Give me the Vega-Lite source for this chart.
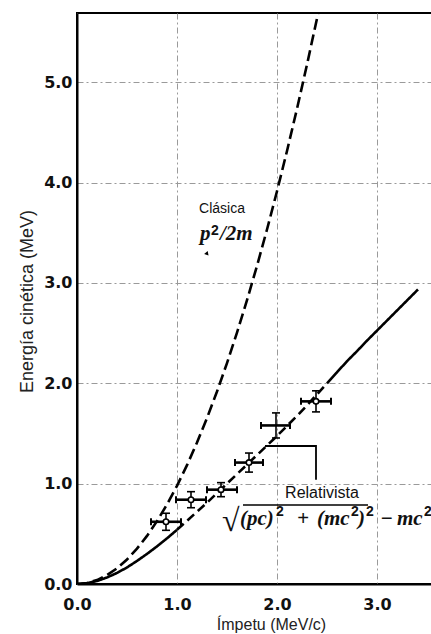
{
  "$schema": "https://vega.github.io/schema/vega-lite/v6.json",
  "width": 360,
  "height": 571,
  "autosize": {"type": "none"},
  "padding": {"left": 77, "top": 13, "right": 0, "bottom": 50},
  "background": "white",
  "config": {
    "view": {"stroke": "black", "strokeWidth": 2},
    "axis": {
      "domainColor": "black",
      "domainWidth": 2,
      "ticks": false,
      "grid": true,
      "gridColor": "#9a9a9a",
      "gridDash": [6, 3, 2, 3],
      "gridWidth": 1,
      "labelFont": "DejaVu Sans",
      "labelFontWeight": "bold",
      "labelFontSize": 16,
      "labelColor": "#111",
      "labelFlush": false,
      "titleFont": "Liberation Sans",
      "titleFontWeight": "normal",
      "titleColor": "#222"
    }
  },
  "datasets": {
    "curvas": [
      {"seg": "c", "p": 0, "K": 0}, {"seg": "c", "p": 0.1, "K": 0.0098}, {"seg": "c", "p": 0.2, "K": 0.0391},
      {"seg": "c", "p": 0.3, "K": 0.0881}, {"seg": "c", "p": 0.4, "K": 0.1566}, {"seg": "c", "p": 0.5, "K": 0.2446},
      {"seg": "c", "p": 0.6, "K": 0.3523}, {"seg": "c", "p": 0.7, "K": 0.4795}, {"seg": "c", "p": 0.8, "K": 0.6262},
      {"seg": "c", "p": 0.9, "K": 0.7926}, {"seg": "c", "p": 1.0, "K": 0.9785}, {"seg": "c", "p": 1.1, "K": 1.184},
      {"seg": "c", "p": 1.2, "K": 1.409}, {"seg": "c", "p": 1.3, "K": 1.6536}, {"seg": "c", "p": 1.4, "K": 1.9178},
      {"seg": "c", "p": 1.5, "K": 2.2016}, {"seg": "c", "p": 1.6, "K": 2.5049}, {"seg": "c", "p": 1.7, "K": 2.8278},
      {"seg": "c", "p": 1.8, "K": 3.1703}, {"seg": "c", "p": 1.9, "K": 3.5323}, {"seg": "c", "p": 2.0, "K": 3.9139},
      {"seg": "c", "p": 2.1, "K": 4.3151}, {"seg": "c", "p": 2.2, "K": 4.7358}, {"seg": "c", "p": 2.3, "K": 5.1761},
      {"seg": "c", "p": 2.4, "K": 5.636}, {"seg": "c", "p": 2.45, "K": 5.873},
      {"seg": "r1", "p": 0, "K": 0}, {"seg": "r1", "p": 0.1, "K": 0.008}, {"seg": "r1", "p": 0.2, "K": 0.03},
      {"seg": "r1", "p": 0.3, "K": 0.065}, {"seg": "r1", "p": 0.4, "K": 0.11}, {"seg": "r1", "p": 0.5, "K": 0.165},
      {"seg": "r1", "p": 0.6, "K": 0.23}, {"seg": "r1", "p": 0.7, "K": 0.3}, {"seg": "r1", "p": 0.8, "K": 0.375},
      {"seg": "r1", "p": 0.9, "K": 0.455}, {"seg": "r1", "p": 1.0, "K": 0.54},
      {"seg": "r2", "p": 1.0, "K": 0.54}, {"seg": "r2", "p": 1.1, "K": 0.63}, {"seg": "r2", "p": 1.2, "K": 0.72},
      {"seg": "r2", "p": 1.3, "K": 0.81}, {"seg": "r2", "p": 1.4, "K": 0.905}, {"seg": "r2", "p": 1.5, "K": 1.0},
      {"seg": "r2", "p": 1.6, "K": 1.095}, {"seg": "r2", "p": 1.7, "K": 1.19}, {"seg": "r2", "p": 1.8, "K": 1.285},
      {"seg": "r2", "p": 1.9, "K": 1.38}, {"seg": "r2", "p": 2.0, "K": 1.475}, {"seg": "r2", "p": 2.1, "K": 1.575},
      {"seg": "r2", "p": 2.2, "K": 1.675}, {"seg": "r2", "p": 2.3, "K": 1.78}, {"seg": "r2", "p": 2.4, "K": 1.89},
      {"seg": "r2", "p": 2.5, "K": 2.0},
      {"seg": "r3", "p": 2.5, "K": 2.0}, {"seg": "r3", "p": 2.6, "K": 2.11}, {"seg": "r3", "p": 2.7, "K": 2.22},
      {"seg": "r3", "p": 2.8, "K": 2.32}, {"seg": "r3", "p": 2.9, "K": 2.425}, {"seg": "r3", "p": 3.0, "K": 2.525},
      {"seg": "r3", "p": 3.1, "K": 2.625}, {"seg": "r3", "p": 3.2, "K": 2.725}, {"seg": "r3", "p": 3.3, "K": 2.825},
      {"seg": "r3", "p": 3.41, "K": 2.935}
    ],
    "medidas": [
      {"p": 0.89, "K": 0.62, "pmin": 0.74, "pmax": 1.04, "Kmin": 0.535, "Kmax": 0.705},
      {"p": 1.14, "K": 0.84, "pmin": 0.99, "pmax": 1.29, "Kmin": 0.76, "Kmax": 0.92},
      {"p": 1.44, "K": 0.94, "pmin": 1.3, "pmax": 1.6, "Kmin": 0.87, "Kmax": 1.01},
      {"p": 1.72, "K": 1.21, "pmin": 1.58, "pmax": 1.86, "Kmin": 1.115, "Kmax": 1.305},
      {"p": 1.99, "K": 1.58, "pmin": 1.84, "pmax": 2.13, "Kmin": 1.455, "Kmax": 1.705},
      {"p": 2.39, "K": 1.82, "pmin": 2.24, "pmax": 2.54, "Kmin": 1.715, "Kmax": 1.925}
    ],
    "corchete": [
      {"i": 1, "p": 1.88, "K": 1.375},
      {"i": 2, "p": 2.39, "K": 1.375},
      {"i": 3, "p": 2.39, "K": 1.04}
    ],
    "raiz": [{"p": 1.66, "p2": 2.91, "K": 0.787}]
  },
  "layer": [
    {
      "data": {"name": "curvas"},
      "mark": {"type": "line", "color": "black", "strokeWidth": 2.6, "clip": true},
      "encoding": {
        "x": {
          "field": "p", "type": "quantitative",
          "scale": {"domain": [0, 3.6], "nice": false, "zero": false},
          "axis": {
            "values": [0, 1, 2, 3], "format": ".1f", "labelPadding": 12,
            "title": "Ímpetu (MeV/c)", "titleFontSize": 16,
            "titleX": 194, "titleY": 40, "titleAlign": "center", "titleBaseline": "middle"
          }
        },
        "y": {
          "field": "K", "type": "quantitative",
          "scale": {"domain": [0, 5.69], "nice": false, "zero": false},
          "axis": {
            "values": [0, 1, 2, 3, 4, 5], "format": ".1f", "labelPadding": 5,
            "title": "Energía cinética (MeV)", "titleFontSize": 18,
            "titleX": -50, "titleY": 288, "titleAngle": -90, "titleAlign": "center", "titleBaseline": "middle"
          }
        },
        "detail": {"field": "seg"},
        "strokeDash": {
          "field": "seg", "type": "nominal", "legend": null,
          "scale": {"domain": ["c", "r1", "r2", "r3"], "range": [[11, 5], [1, 0], [9, 5], [1, 0]]}
        }
      }
    },
    {
      "data": {"name": "medidas"},
      "mark": {"type": "rule", "color": "black", "strokeWidth": 2.6},
      "encoding": {
        "x": {"field": "pmin", "type": "quantitative"},
        "x2": {"field": "pmax"},
        "y": {"field": "K", "type": "quantitative"}
      }
    },
    {
      "data": {"name": "medidas"},
      "mark": {"type": "rule", "color": "black", "strokeWidth": 1.6},
      "encoding": {
        "x": {"field": "p", "type": "quantitative"},
        "y": {"field": "Kmin", "type": "quantitative"},
        "y2": {"field": "Kmax"}
      }
    },
    {
      "data": {"name": "medidas"},
      "mark": {"type": "tick", "color": "black", "orient": "horizontal", "size": 8, "thickness": 1.6, "opacity": 1},
      "encoding": {
        "x": {"field": "p", "type": "quantitative"},
        "y": {"field": "Kmin", "type": "quantitative"}
      }
    },
    {
      "data": {"name": "medidas"},
      "mark": {"type": "tick", "color": "black", "orient": "horizontal", "size": 8, "thickness": 1.6, "opacity": 1},
      "encoding": {
        "x": {"field": "p", "type": "quantitative"},
        "y": {"field": "Kmax", "type": "quantitative"}
      }
    },
    {
      "data": {"name": "medidas"},
      "mark": {"type": "tick", "color": "black", "orient": "vertical", "size": 7, "thickness": 2, "opacity": 1},
      "encoding": {
        "x": {"field": "pmin", "type": "quantitative"},
        "y": {"field": "K", "type": "quantitative"}
      }
    },
    {
      "data": {"name": "medidas"},
      "mark": {"type": "tick", "color": "black", "orient": "vertical", "size": 7, "thickness": 2, "opacity": 1},
      "encoding": {
        "x": {"field": "pmax", "type": "quantitative"},
        "y": {"field": "K", "type": "quantitative"}
      }
    },
    {
      "data": {"name": "medidas"},
      "transform": [{"filter": "datum.p != 1.99"}],
      "mark": {"type": "point", "shape": "circle", "filled": true, "fill": "white", "stroke": "black", "strokeWidth": 1.6, "size": 30, "opacity": 1},
      "encoding": {
        "x": {"field": "p", "type": "quantitative"},
        "y": {"field": "K", "type": "quantitative"}
      }
    },
    {
      "data": {"name": "corchete"},
      "mark": {"type": "line", "color": "black", "strokeWidth": 1.8},
      "encoding": {
        "x": {"field": "p", "type": "quantitative"},
        "y": {"field": "K", "type": "quantitative"},
        "order": {"field": "i"}
      }
    },
    {
      "data": {"name": "raiz"},
      "mark": {"type": "rule", "color": "black", "strokeWidth": 1.5},
      "encoding": {
        "x": {"field": "p", "type": "quantitative"},
        "x2": {"field": "p2"},
        "y": {"field": "K", "type": "quantitative"}
      }
    },
    {
      "data": {"values": [{"p": 1.45, "K": 3.735, "t": "Clásica"}]},
      "mark": {"type": "text", "font": "Liberation Sans", "fontSize": 14, "color": "#111", "align": "center", "baseline": "middle"},
      "encoding": {
        "x": {"field": "p", "type": "quantitative"},
        "y": {"field": "K", "type": "quantitative"},
        "text": {"field": "t"}
      }
    },
    {
      "data": {"values": [{"p": 2.45, "K": 0.906, "t": "Relativista"}]},
      "mark": {"type": "text", "font": "Liberation Sans", "fontSize": 16, "color": "#111", "align": "center", "baseline": "middle"},
      "encoding": {
        "x": {"field": "p", "type": "quantitative"},
        "y": {"field": "K", "type": "quantitative"},
        "text": {"field": "t"}
      }
    },
    {
      "data": {"values": [
        {"p": 1.23, "K": 3.426, "t": "p"}, {"p": 1.43, "K": 3.426, "t": "/2m"},
        {"p": 1.63, "K": 0.588, "t": "(pc)"}, {"p": 2.2, "K": 0.588, "t": "+"},
        {"p": 2.4, "K": 0.588, "t": "(mc"}, {"p": 2.81, "K": 0.588, "t": ")"},
        {"p": 3.03, "K": 0.588, "t": "−"}, {"p": 3.2, "K": 0.588, "t": "mc"}
      ]},
      "mark": {"type": "text", "font": "Liberation Serif", "fontStyle": "italic", "fontWeight": "bold", "fontSize": 21, "color": "#111", "align": "left", "baseline": "alphabetic"},
      "encoding": {
        "x": {"field": "p", "type": "quantitative"},
        "y": {"field": "K", "type": "quantitative"},
        "text": {"field": "t"}
      }
    },
    {
      "data": {"values": [
        {"p": 1.34, "K": 3.476, "t": "2"},
        {"p": 1.99, "K": 0.677, "t": "2"}, {"p": 2.74, "K": 0.677, "t": "2"},
        {"p": 2.89, "K": 0.677, "t": "2"}, {"p": 3.47, "K": 0.677, "t": "2"}
      ]},
      "mark": {"type": "text", "font": "Liberation Sans", "fontWeight": "bold", "fontSize": 14, "color": "#111", "align": "left", "baseline": "alphabetic"},
      "encoding": {
        "x": {"field": "p", "type": "quantitative"},
        "y": {"field": "K", "type": "quantitative"},
        "text": {"field": "t"}
      }
    },
    {
      "data": {"values": [{"p": 1.45, "K": 0.53, "t": "√"}]},
      "mark": {"type": "text", "font": "Liberation Serif", "fontSize": 32, "color": "#111", "align": "left", "baseline": "alphabetic"},
      "encoding": {
        "x": {"field": "p", "type": "quantitative"},
        "y": {"field": "K", "type": "quantitative"},
        "text": {"field": "t"}
      }
    },
    {
      "data": {"values": [{"p": 1.3, "K": 3.3}]},
      "mark": {"type": "point", "shape": "triangle-up", "filled": true, "color": "black", "size": 22, "angle": 20, "opacity": 1},
      "encoding": {
        "x": {"field": "p", "type": "quantitative"},
        "y": {"field": "K", "type": "quantitative"}
      }
    }
  ]
}
